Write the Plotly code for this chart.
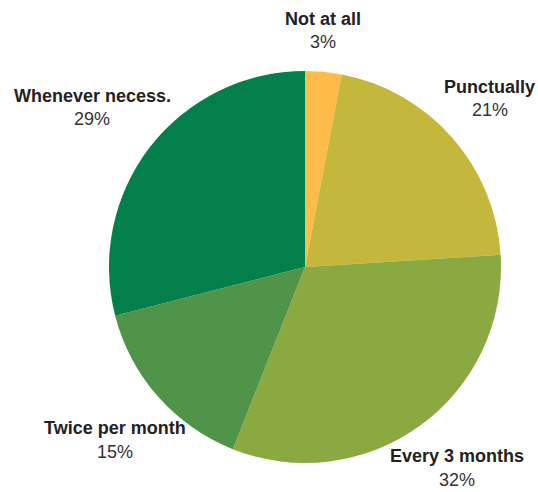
import math
import plotly.graph_objects as go

# Survey answers, clockwise from 12 o'clock
categories = ["Not at all", "Punctually", "Every 3 months", "Twice per month", "Whenever necess."]
values = [3, 21, 32, 15, 29]
colors = ["#FDBB4A", "#C4B73B", "#8AA940", "#4F9449", "#037F4C"]

# Figure geometry (pixels)
W, H = 538, 492
CX, CY, R = 305, 267, 196
# distance of each label block's centre from the pie centre
label_radius = [237, 250, 252, 257, 266]
LABEL_ANGLE_SHIFT = -1.0  # degrees
LINE_GAP = 11.8
FONT = "Liberation Sans, Arial, sans-serif"

fig = go.Figure(
    go.Pie(
        labels=categories,
        values=values,
        sort=False,
        direction="clockwise",
        rotation=0,
        marker=dict(colors=colors, line=dict(width=0)),
        textinfo="none",
        hoverinfo="label+percent",
        domain=dict(x=[(CX - R) / W, (CX + R) / W], y=[(H - CY - R) / H, (H - CY + R) / H]),
        showlegend=False,
    )
)

total = sum(values)
annotations = []
cum = 0
for name, v, rad in zip(categories, values, label_radius):
    mid = (cum + v / 2) / total * 2 * math.pi + math.radians(LABEL_ANGLE_SHIFT)
    cum += v
    px = CX + rad * math.sin(mid)
    py = CY - rad * math.cos(mid)
    pct = f"{v / total * 100:.0f}%"
    annotations.append(dict(
        x=px / W, y=1 - (py - LINE_GAP) / H, xref="paper", yref="paper",
        text=f"<b>{name}</b>", showarrow=False, xanchor="center", yanchor="middle",
        font=dict(family=FONT, size=18, color="#222222"),
    ))
    annotations.append(dict(
        x=px / W, y=1 - (py + LINE_GAP) / H, xref="paper", yref="paper",
        text=pct, showarrow=False, xanchor="center", yanchor="middle",
        font=dict(family=FONT, size=18, color="#333333"),
    ))

fig.update_layout(
    width=W, height=H,
    margin=dict(l=0, r=0, t=0, b=0),
    paper_bgcolor="white",
    plot_bgcolor="white",
    annotations=annotations,
)

fig.write_html("out.html")
